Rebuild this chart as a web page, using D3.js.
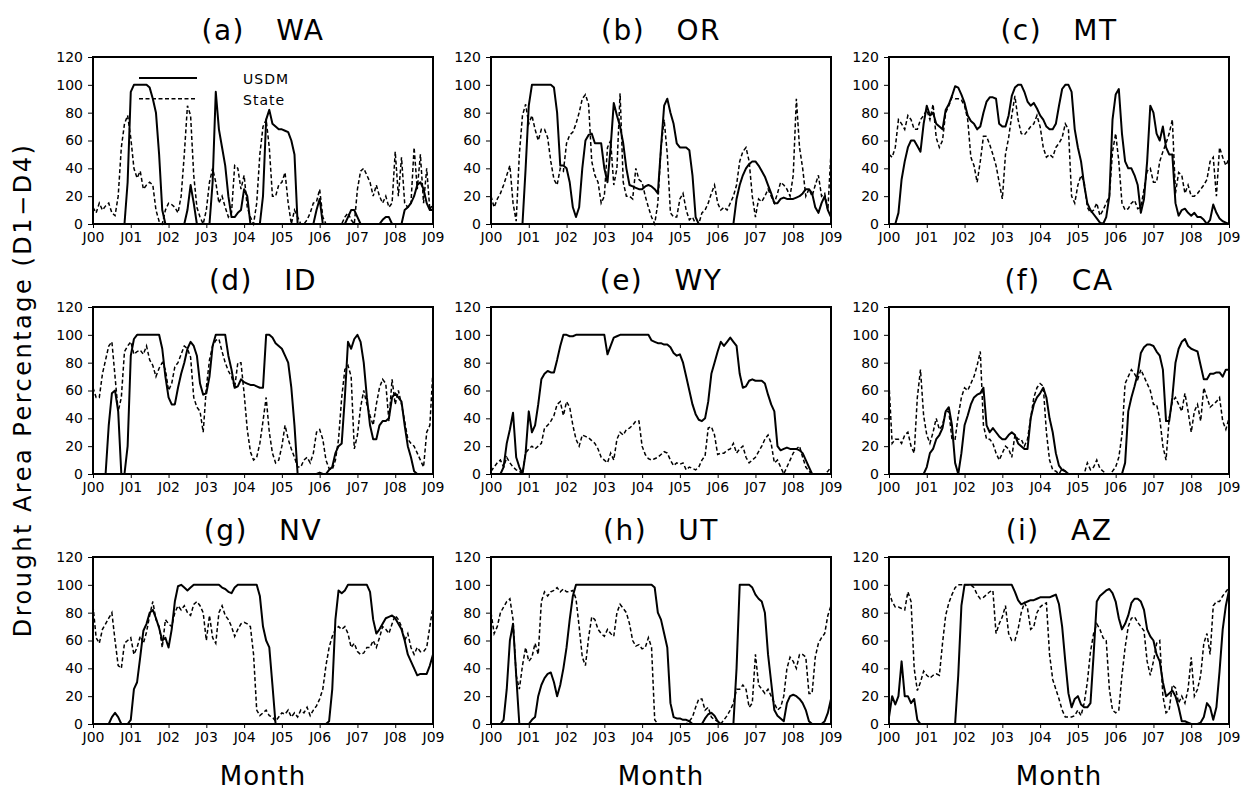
<!DOCTYPE html>
<html><head><meta charset="utf-8">
<script src="https://cdn.jsdelivr.net/npm/d3@7"></script>
<style>
body{margin:0;background:#fff}
svg{display:block}
text{font-family:"DejaVu Sans",sans-serif;fill:#000}
</style>
</head><body>
<svg id="chart" width="1246" height="790"></svg>
<script>
// ---------- data (monthly, Jan 2000 .. Jan 2009) ----------
const yearTickMonths = [0,12,24,36,48,60,72,84,96,108];
const yearTickLabels = ["J00","J01","J02","J03","J04","J05","J06","J07","J08","J09"];
const yTickValues = [0,20,40,60,80,100,120];
const stateCodes = ["WA","OR","MT","ID","WY","CA","NV","UT","AZ"];
const panelLetters = ["(a)","(b)","(c)","(d)","(e)","(f)","(g)","(h)","(i)"];
const legendLabels = ["USDM","State"];

const usdmWA = [0,0,0,0,0,0,0,0,0,0,0,30, 95,100,100,100,100,100,98,90,80,50,10,0, 0,0,0,0,0,0,10,28,15,0,0,0, 0,0,30,95,68,55,42,20,5,5,8,10, 25,20,0,0,0,0,20,75,82,72,70,68, 68,67,66,60,50,0,0,0,0,0,0,10, 18,0,0,0,0,0,0,0,0,5,10,10, 5,0,0,0,0,0,0,0,3,5,5,0, 0,0,0,10,12,15,20,28,30,25,15,10, 10];
const stateWA = [12,8,15,10,13,15,8,6,20,55,72,78, 62,40,33,38,25,28,30,28,10,2,0,10, 15,14,12,8,20,50,85,78,35,12,5,0, 10,30,40,30,15,20,12,5,8,42,40,25, 35,12,5,0,15,50,70,75,55,20,20,28, 30,37,15,0,10,5,0,0,3,8,15,16, 25,5,0,0,0,0,0,0,5,8,3,0, 25,38,40,35,30,20,28,20,15,20,12,15, 52,20,48,15,12,15,55,25,50,15,40,10, 15];

const usdmOR = [0,0,0,0,0,0,0,0,0,0,0,40, 85,100,100,100,100,100,100,100,98,80,42,42, 40,30,12,5,12,40,60,64,65,58,58,58, 40,30,55,87,78,70,58,40,28,27,26,25, 25,27,28,27,25,22,55,85,90,80,72,58, 55,55,55,53,35,5,0,0,0,0,0,0, 0,0,0,0,0,0,18,28,35,40,43,45, 45,42,38,34,28,22,15,15,18,19,18,18, 18,19,20,22,25,25,22,12,8,15,20,10, 5];
const stateOR = [20,12,18,22,28,35,42,15,2,50,78,86, 72,78,68,60,68,68,62,45,32,28,40,38, 58,64,66,72,80,90,93,86,45,35,30,15, 20,55,60,28,40,94,30,20,20,18,40,32, 30,20,12,5,0,15,55,75,50,8,5,5, 18,22,10,3,5,0,0,8,10,15,22,28, 15,10,12,10,15,20,28,45,52,55,45,20, 5,18,16,20,25,20,15,22,30,28,25,20, 35,90,55,40,20,25,20,28,35,20,22,10, 52];

const usdmMT = [0,0,0,8,32,45,55,60,60,56,52,72, 85,78,80,72,70,68,82,86,92,99,98,93, 87,78,74,72,68,70,80,88,91,91,90,72, 70,70,78,92,98,100,100,95,88,85,87,83, 78,75,70,68,68,72,85,97,100,100,95,68, 55,45,28,15,10,7,4,1,0,5,20,75, 93,97,65,45,40,40,35,28,8,18,45,85, 80,65,60,70,55,50,50,15,6,10,11,8, 6,8,5,5,3,0,3,14,8,4,2,1, 0];
const stateMT = [50,48,55,75,72,68,78,75,68,68,75,78, 82,75,86,62,55,60,80,85,91,90,90,89, 85,75,48,42,30,45,63,63,57,50,42,30, 18,50,62,78,92,75,65,64,67,70,72,78, 70,55,48,50,48,55,58,62,72,68,20,15, 28,35,30,12,8,10,15,6,10,15,20,52, 65,45,15,10,11,15,17,11,12,25,38,40, 30,30,45,52,58,65,75,22,37,35,22,28, 20,20,22,25,28,32,45,48,20,55,48,42, 47];

const usdmID = [0,0,0,0,0,35,58,60,45,0,0,20, 85,97,100,100,100,100,100,100,100,100,90,70, 55,50,50,62,72,80,90,95,92,85,65,57, 58,70,92,100,100,100,100,85,75,62,63,68, 66,65,64,64,63,62,62,100,100,98,94,92, 90,85,80,62,35,0,0,0,0,0,0,0, 1,0,0,3,5,15,20,22,55,95,90,97, 100,95,80,55,35,25,25,35,38,38,40,55, 58,55,52,35,20,12,2,0,0,0,0,0, 0];
const stateID = [62,55,55,72,82,92,95,70,45,55,88,92, 95,86,88,89,86,92,82,78,70,76,80,75, 60,65,77,80,86,92,90,84,55,48,45,30, 62,82,92,96,97,88,80,74,70,62,80,80, 58,32,16,10,12,22,38,55,30,15,8,10, 20,35,25,18,12,5,5,10,12,8,15,30, 32,25,10,4,3,10,25,55,75,78,70,18, 28,48,60,50,42,35,50,62,68,65,38,68, 50,60,50,38,25,22,20,15,10,5,30,35, 75];

const usdmWY = [0,0,0,0,5,22,32,44,12,5,0,15, 45,30,35,50,68,72,74,73,73,82,92,100, 100,99,99,100,100,100,100,100,100,100,100,100, 100,86,92,98,99,100,100,100,100,100,100,100, 100,100,100,96,95,94,94,93,93,91,87,85, 86,80,70,60,50,43,39,38,40,52,72,80, 88,95,92,95,98,95,92,72,62,63,67,68, 67,67,67,65,57,50,45,20,17,18,19,18, 18,18,17,15,10,5,0,0,0,0,0,0, 0];
const stateWY = [2,5,8,10,5,12,8,5,3,2,0,15, 18,20,18,20,22,33,35,38,42,50,52,42, 52,48,35,25,20,28,27,26,24,22,18,12, 10,8,15,10,25,30,28,32,33,35,38,38, 20,14,11,10,11,12,14,16,15,10,6,8, 7,8,3,5,4,3,5,10,13,33,34,28, 14,15,15,17,18,22,15,18,20,12,8,10, 12,16,20,25,28,22,8,10,5,0,5,10, 15,18,20,12,5,2,0,0,0,0,0,2, 5];

const usdmCA = [0,0,0,0,0,0,0,0,0,0,0,0, 5,15,18,25,28,33,45,48,35,8,0,15, 35,42,50,55,57,58,62,35,30,33,30,27, 25,25,28,30,28,22,20,18,18,40,50,55, 58,62,55,40,30,15,6,3,2,0,0,0, 0,0,0,0,0,0,0,0,0,0,0,0, 0,0,0,8,45,55,63,72,87,91,93,93, 92,88,85,75,38,38,55,80,90,95,97,92, 90,89,88,78,68,68,72,72,73,73,70,75, 75];
const stateCA = [65,22,25,25,22,28,30,20,15,55,75,42, 28,22,30,40,32,35,45,45,25,25,42,55, 62,60,65,70,78,88,35,25,25,22,15,10, 15,20,18,12,28,25,25,20,25,40,55,62, 65,63,30,10,3,2,0,4,2,0,0,0, 0,0,0,8,3,5,10,4,2,0,0,2, 5,12,28,65,70,75,72,68,75,70,65,60, 50,50,40,20,10,40,52,55,50,45,58,45, 30,45,50,38,62,55,48,50,52,55,38,32, 40];

const usdmNV = [0,0,0,0,0,0,5,8,5,0,0,0, 3,25,30,48,67,72,80,82,76,69,60,62, 55,68,88,99,100,98,96,98,100,100,100,100, 100,100,100,100,100,98,97,95,94,98,100,100, 100,100,100,100,100,92,70,60,55,28,0,0, 0,0,0,0,0,0,0,0,0,0,0,0, 0,0,0,2,25,75,96,94,96,100,100,100, 100,100,100,100,95,75,65,68,72,76,77,78, 76,72,68,60,50,45,40,35,36,36,36,42, 50];
const stateNV = [85,62,58,68,72,76,80,60,42,40,58,60, 62,50,55,63,58,66,78,88,75,70,55,75, 72,70,80,85,82,85,80,78,86,88,85,80, 60,78,62,58,80,85,78,75,70,63,68,72, 73,72,70,50,10,6,8,10,6,5,2,5, 8,7,10,5,8,5,10,8,12,6,10,13, 18,25,42,55,63,68,70,68,70,65,55,58, 52,50,51,55,55,60,55,62,70,68,65,72, 78,75,70,60,65,55,50,55,52,52,55,70, 85];

const usdmUT = [0,0,0,0,3,25,60,72,35,0,0,0, 0,3,5,20,28,33,36,37,30,20,28,40, 55,75,92,100,100,100,100,100,100,100,100,100, 100,100,100,100,100,100,100,100,100,100,100,100, 100,100,100,100,98,80,75,65,55,15,5,4, 4,3,3,2,0,0,0,0,4,7,8,6, 2,0,0,0,0,0,40,100,100,100,100,98, 93,90,88,80,50,30,10,6,4,2,15,20, 21,20,18,15,10,2,0,0,0,0,2,8, 18];
const stateUT = [80,65,70,80,84,88,90,75,35,25,42,55, 45,48,58,50,88,95,92,95,96,98,95,97, 95,95,96,90,70,48,42,62,77,75,68,65, 63,68,65,63,80,86,83,80,72,60,56,57, 54,55,62,55,3,0,0,0,0,0,0,0, 0,0,0,2,5,12,18,18,10,12,5,3, 2,0,3,6,10,15,25,25,28,25,12,15, 50,28,25,22,25,20,15,10,12,20,40,48, 45,40,50,50,48,22,22,48,58,62,65,78, 85];

const usdmAZ = [5,20,14,20,45,20,20,15,18,3,0,0, 0,0,0,0,0,0,0,0,0,0,35,85, 100,100,100,100,100,100,100,100,100,100,100,100, 100,100,100,100,95,89,86,87,88,89,89,90, 91,91,91,91,92,93,86,70,45,22,12,18, 20,14,12,12,15,50,88,92,94,96,97,94, 88,76,68,72,78,87,90,90,88,82,68,63, 60,50,45,30,20,22,24,20,12,2,2,1, 0,0,0,1,5,15,12,3,12,38,68,85, 96];
const stateAZ = [95,88,84,84,83,82,95,88,40,24,30,38, 35,33,35,36,35,58,78,87,93,98,100,100, 100,100,100,98,93,90,91,93,95,96,65,72, 77,85,65,60,60,68,80,87,83,68,70,80, 84,86,87,50,32,25,18,10,5,5,5,6, 10,6,15,30,52,65,72,68,62,60,25,10, 8,10,35,55,70,76,77,73,70,67,45,35, 45,58,60,20,8,10,28,26,15,20,15,25, 48,20,25,35,58,65,50,85,88,88,92,95, 98];

const usdmSeries  = [usdmWA, usdmOR, usdmMT, usdmID, usdmWY, usdmCA, usdmNV, usdmUT, usdmAZ];
const stateSeries = [stateWA, stateOR, stateMT, stateID, stateWY, stateCA, stateNV, stateUT, stateAZ];

// ---------- layout ----------
const svg = d3.select("#chart");
const colX = [93, 491, 889], rowY = [57, 307, 557];
const pw = 340, ph = 167;

stateCodes.forEach((code, i) => {
  const r = Math.floor(i / 3), c = i % 3;
  const g = svg.append("g").attr("transform", `translate(${colX[c]},${rowY[r]})`);
  const x = d3.scaleLinear().domain([0, 108]).range([0, pw]);
  const y = d3.scaleLinear().domain([0, 120]).range([ph, 0]);

  const xAxis = d3.axisBottom(x).tickValues(yearTickMonths)
    .tickFormat((d, k) => yearTickLabels[k]).tickSize(4).tickPadding(4).tickSizeOuter(0);
  const yAxis = d3.axisLeft(y).tickValues(yTickValues).tickSize(5).tickPadding(5).tickSizeOuter(0);

  const gx = g.append("g").attr("transform", `translate(0,${ph})`).call(xAxis);
  const gy = g.append("g").call(yAxis);
  [gx, gy].forEach(a => {
    a.select(".domain").remove();
    a.selectAll("line").attr("stroke", "#000").attr("stroke-width", 1);
    a.selectAll("text").attr("font-size", 14).attr("font-family", "DejaVu Sans");
  });

  const line = d3.line().x((d, k) => x(k)).y(d => y(d));
  g.append("path").datum(stateSeries[i])
    .attr("fill", "none").attr("stroke", "#000").attr("stroke-width", 1.5)
    .attr("stroke-dasharray", "4,2.5").attr("d", line);
  g.append("path").datum(usdmSeries[i])
    .attr("fill", "none").attr("stroke", "#000").attr("stroke-width", 2)
    .attr("stroke-linejoin", "round").attr("d", line);

  g.append("rect").attr("x", 0).attr("y", 0).attr("width", pw).attr("height", ph)
    .attr("fill", "none").attr("stroke", "#000").attr("stroke-width", 2);

  g.append("text").attr("x", pw / 2).attr("y", -17).attr("text-anchor", "middle")
    .attr("font-size", 28).attr("letter-spacing", 1.5).style("white-space", "pre")
    .text(panelLetters[i] + "   " + code);

  if (i === 0) {
    const lx0 = 46, lx1 = 104;
    g.append("line").attr("x1", lx0).attr("x2", lx1).attr("y1", y(105)).attr("y2", y(105))
      .attr("stroke", "#000").attr("stroke-width", 2);
    g.append("line").attr("x1", lx0).attr("x2", lx1).attr("y1", y(90)).attr("y2", y(90))
      .attr("stroke", "#000").attr("stroke-width", 1.5).attr("stroke-dasharray", "4,2.5");
    g.append("text").attr("x", 150).attr("y", y(105) + 6).attr("font-size", 14)
      .attr("letter-spacing", 1).text(legendLabels[0]);
    g.append("text").attr("x", 150).attr("y", y(90) + 6).attr("font-size", 14)
      .attr("letter-spacing", 1).text(legendLabels[1]);
  }
  if (r === 2) {
    g.append("text").attr("x", pw / 2).attr("y", ph + 61).attr("text-anchor", "middle")
      .attr("font-size", 26).attr("letter-spacing", 1).text("Month");
  }
});

svg.append("text")
  .attr("transform", "translate(31,390) rotate(-90)")
  .attr("text-anchor", "middle").attr("font-size", 24).attr("letter-spacing", 2.5)
  .text("Drought Area Percentage (D1\u2212D4)");
</script>
</body></html>
